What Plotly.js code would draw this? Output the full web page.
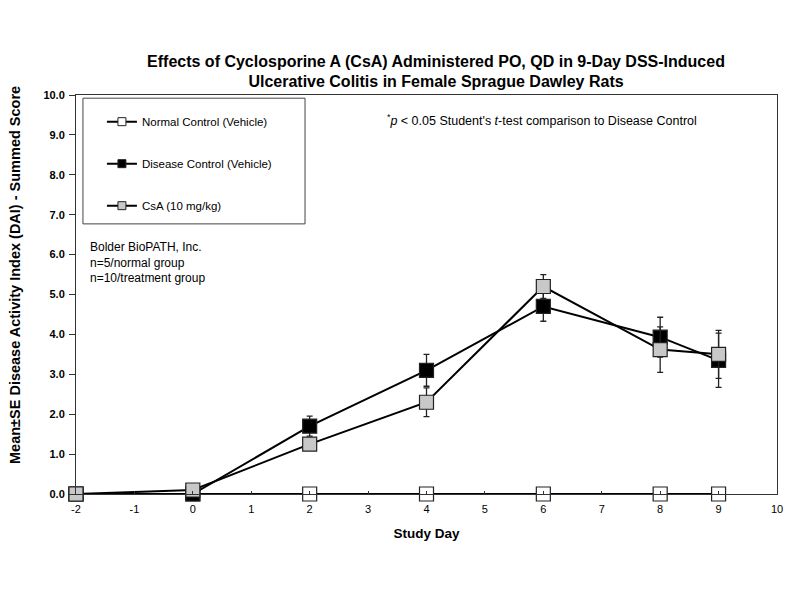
<!DOCTYPE html>
<html>
<head>
<meta charset="utf-8">
<script src="https://cdn.plot.ly/plotly-3.0.1.min.js"></script>
<style>html,body{margin:0;padding:0;background:#fff;}#chart{width:800px;height:600px;}</style>
</head>
<body>
<div id="chart"></div>
<script>
var days = [-2, 0, 2, 4, 6, 8, 9];
var normalMean = [0, 0, 0, 0, 0, 0, 0];
var normalSE = [0, 0, 0, 0, 0, 0, 0];
var diseaseMean = [0, 0, 1.7, 3.1, 4.7, 3.93, 3.35];
var diseaseSE = [0, 0, 0.25, 0.4, 0.37, 0.5, 0.68];
var csaMean = [0, 0.1, 1.25, 2.3, 5.2, 3.62, 3.5];
var csaSE = [0, 0, 0.15, 0.36, 0.3, 0.57, 0.6];
var seriesNames = ['Normal Control (Vehicle)', 'Disease Control (Vehicle)', 'CsA (10 mg/kg)'];
var xTicks = [-2, -1, 0, 1, 2, 3, 4, 5, 6, 7, 8, 9, 10];
var yTicks = [0, 1, 2, 3, 4, 5, 6, 7, 8, 9, 10];

var font = 'Liberation Sans, Arial, Helvetica, sans-serif';
var fills = ['#ffffff', '#000000', '#c8c8c8'];
var groups = ['a', 'b', 'c'];

function mk(i, y, se) {
  return {
    x: days, y: y, name: seriesNames[i], type: 'scatter', mode: 'lines+markers',
    legendgroup: groups[i], showlegend: false, cliponaxis: false,
    line: {color: '#000', width: 2},
    marker: {symbol: 'square', size: 14, color: fills[i], line: {color: '#222', width: 1.2}},
    error_y: {type: 'data', array: se, visible: true, color: '#222', thickness: 1.3, width: 3}
  };
}
function legendEntry(i) {
  return {
    x: [null], y: [null], name: seriesNames[i], type: 'scatter', mode: 'lines+markers',
    legendgroup: groups[i], showlegend: true,
    line: {color: '#000', width: 2},
    marker: {symbol: 'square', size: 8, color: fills[i], line: {color: '#222', width: 1}}
  };
}

var data = [
  mk(0, normalMean, normalSE),
  mk(1, diseaseMean, diseaseSE),
  mk(2, csaMean, csaSE),
  legendEntry(0), legendEntry(1), legendEntry(2)
];

var layout = {
  width: 800, height: 600,
  margin: {l: 76, r: 23, t: 95, b: 106},
  paper_bgcolor: '#fff', plot_bgcolor: '#fff',
  font: {family: font, color: '#000', size: 11},
  title: {
    text: '<b>Effects of Cyclosporine A (CsA) Administered PO, QD in 9-Day DSS-Induced<br>Ulcerative Colitis in Female Sprague Dawley Rats</b>',
    font: {family: font, size: 16, color: '#000'},
    x: 0.545, xanchor: 'center', y: 0.889, yanchor: 'middle'
  },
  showlegend: true,
  legend: {
    x: 0.037, y: 0.9695, xanchor: 'left', yanchor: 'top',
    bgcolor: 'rgba(0,0,0,0)', borderwidth: 0,
    font: {family: font, size: 11.5, color: '#000'},
    tracegroupgap: 23, traceorder: 'grouped', itemwidth: 30
  },
  xaxis: {
    range: [-2, 10], tickmode: 'array', tickvals: xTicks, ticktext: xTicks.map(String),
    showgrid: false, zeroline: false, showline: true, linecolor: '#333', linewidth: 1, mirror: true,
    ticks: 'inside', ticklen: 3, tickcolor: '#333', ticklabelstandoff: 5,
    tickfont: {family: font, size: 11},
    title: {text: '<b>Study Day</b>', font: {family: font, size: 13.5}, standoff: 14}
  },
  yaxis: {
    range: [0, 10], tickmode: 'array', tickvals: yTicks, ticktext: yTicks.map(function(v){return '<b>' + v.toFixed(1) + '</b>';}),
    showgrid: false, zeroline: false, showline: true, linecolor: '#333', linewidth: 1, mirror: true,
    ticks: 'outside', ticklen: 6, tickcolor: '#333', ticklabelstandoff: 2,
    tickfont: {family: font, size: 11}
  },
  shapes: [{
    type: 'rect', xref: 'paper', yref: 'paper',
    x0: 0.0099, x1: 0.3267, y0: 0.677, y1: 0.992,
    line: {color: '#444', width: 1}, fillcolor: 'rgba(0,0,0,0)'
  }],
  annotations: [
    {
      xref: 'paper', yref: 'paper', x: -0.087, y: 0.549, xanchor: 'center', yanchor: 'middle',
      showarrow: false, textangle: -90,
      text: '<b>Mean±SE Disease Activity Index (DAI) - Summed Score</b>',
      font: {family: font, size: 14.5, color: '#000'}
    },
    {
      xref: 'paper', yref: 'paper', x: 0.441, y: 0.937, xanchor: 'left', yanchor: 'middle',
      showarrow: false, align: 'left',
      text: '<sup>*</sup><i>p</i> &lt; 0.05 Student\'s <i>t</i>-test comparison to Disease Control',
      font: {family: font, size: 12.5, color: '#000'}
    },
    {
      xref: 'paper', yref: 'paper', x: 0.017, y: 0.642, xanchor: 'left', yanchor: 'top',
      showarrow: false, align: 'left',
      text: 'Bolder BioPATH, Inc.<br>n=5/normal group<br>n=10/treatment group',
      font: {family: font, size: 12, color: '#000'}
    }
  ]
};

Plotly.newPlot('chart', data, layout, {displayModeBar: false, staticPlot: true});
</script>
</body>
</html>
